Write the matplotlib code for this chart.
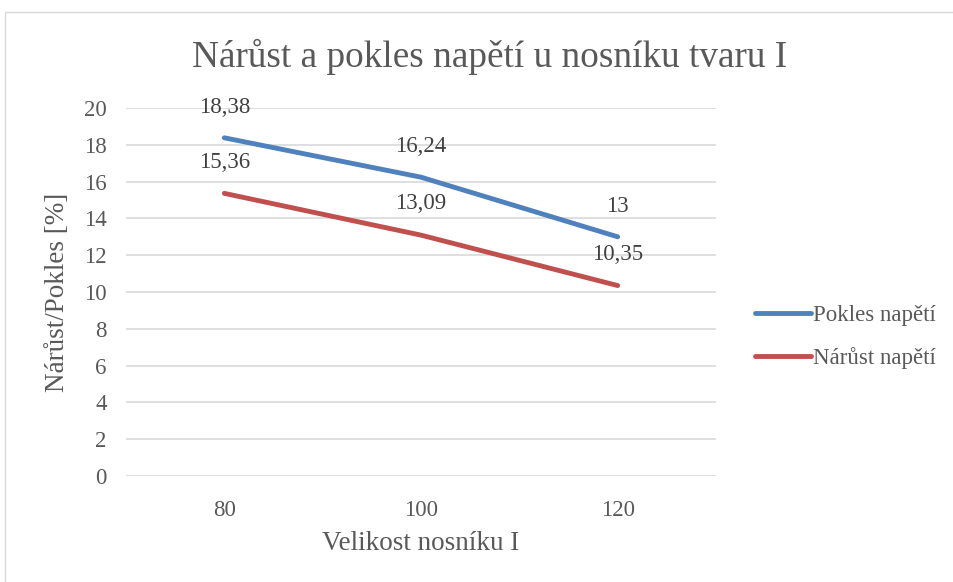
import matplotlib.pyplot as plt
from matplotlib.patches import Rectangle

# data
sizes = ["80", "100", "120"]
pokles = [18.38, 16.24, 13.0]
narust = [15.36, 13.09, 10.35]
pokles_labels = ["18,38", "16,24", "13"]
narust_labels = ["15,36", "13,09", "10,35"]
y_ticks = [0, 2, 4, 6, 8, 10, 12, 14, 16, 18, 20]

plt.rcParams['font.family'] = ['Liberation Serif', 'DejaVu Serif']
text_col = '#595959'

fig = plt.figure(figsize=(9.54, 5.82), dpi=100)
# chart frame like excel
fig.patches.append(Rectangle((5 / 954, -0.1), 1.1, 1 - 12 / 582 + 0.1,
                             transform=fig.transFigure, fill=False,
                             edgecolor='#d9d9d9', linewidth=1))

ax = fig.add_axes([126 / 954, 106 / 582, 590 / 954, 368 / 582])
x = list(range(len(sizes)))
ax.plot(x, pokles, color='#4F81BD', linewidth=3.5, label='Pokles napětí',
        solid_capstyle='round')
ax.plot(x, narust, color='#C0504D', linewidth=3.5, label='Nárůst napětí',
        solid_capstyle='round')

# data labels above points
for i in x:
    ax.annotate(pokles_labels[i], (i, pokles[i]), xytext=(0, 22),
                textcoords='offset points', ha='center', va='center',
                fontsize=16.5, color='#404040')
    ax.annotate(narust_labels[i], (i, narust[i]), xytext=(0, 22.5),
                textcoords='offset points', ha='center', va='center',
                fontsize=16.5, color='#404040')

ax.set_xlim(-0.5, 2.5)
ax.set_ylim(0, 20)
ax.set_yticks(y_ticks)
ax.set_xticks(x)
ax.set_xticklabels(sizes)
ax.grid(axis='y', color='#d9d9d9', linewidth=1.2)
ax.set_axisbelow(True)
for s in ax.spines.values():
    s.set_visible(False)
ax.tick_params(length=0, labelsize=16.5, colors=text_col)
ax.tick_params(axis='y', pad=14)
ax.tick_params(axis='x', pad=17)

ax.set_xlabel('Velikost nosníku I', fontsize=19.5, color=text_col, va='center')
ax.xaxis.set_label_coords(0.5, -68 / 368)
ax.set_ylabel('Nárůst/Pokles [%]', fontsize=19.5, color=text_col, va='center')
ax.yaxis.set_label_coords(-69 / 590, 0.5)
fig.text(490 / 954, 1 - 57 / 582, 'Nárůst a pokles napětí u nosníku tvaru I',
         ha='center', va='center', fontsize=26.8, color=text_col)

leg = ax.legend(loc='center left', bbox_to_anchor=(1.066, 0.378), frameon=False,
                fontsize=16.5, handlelength=2.45, handletextpad=0.1,
                labelspacing=0.95, borderpad=0, borderaxespad=0,
                labelcolor=text_col)

fig.savefig('out.png', dpi=100)
